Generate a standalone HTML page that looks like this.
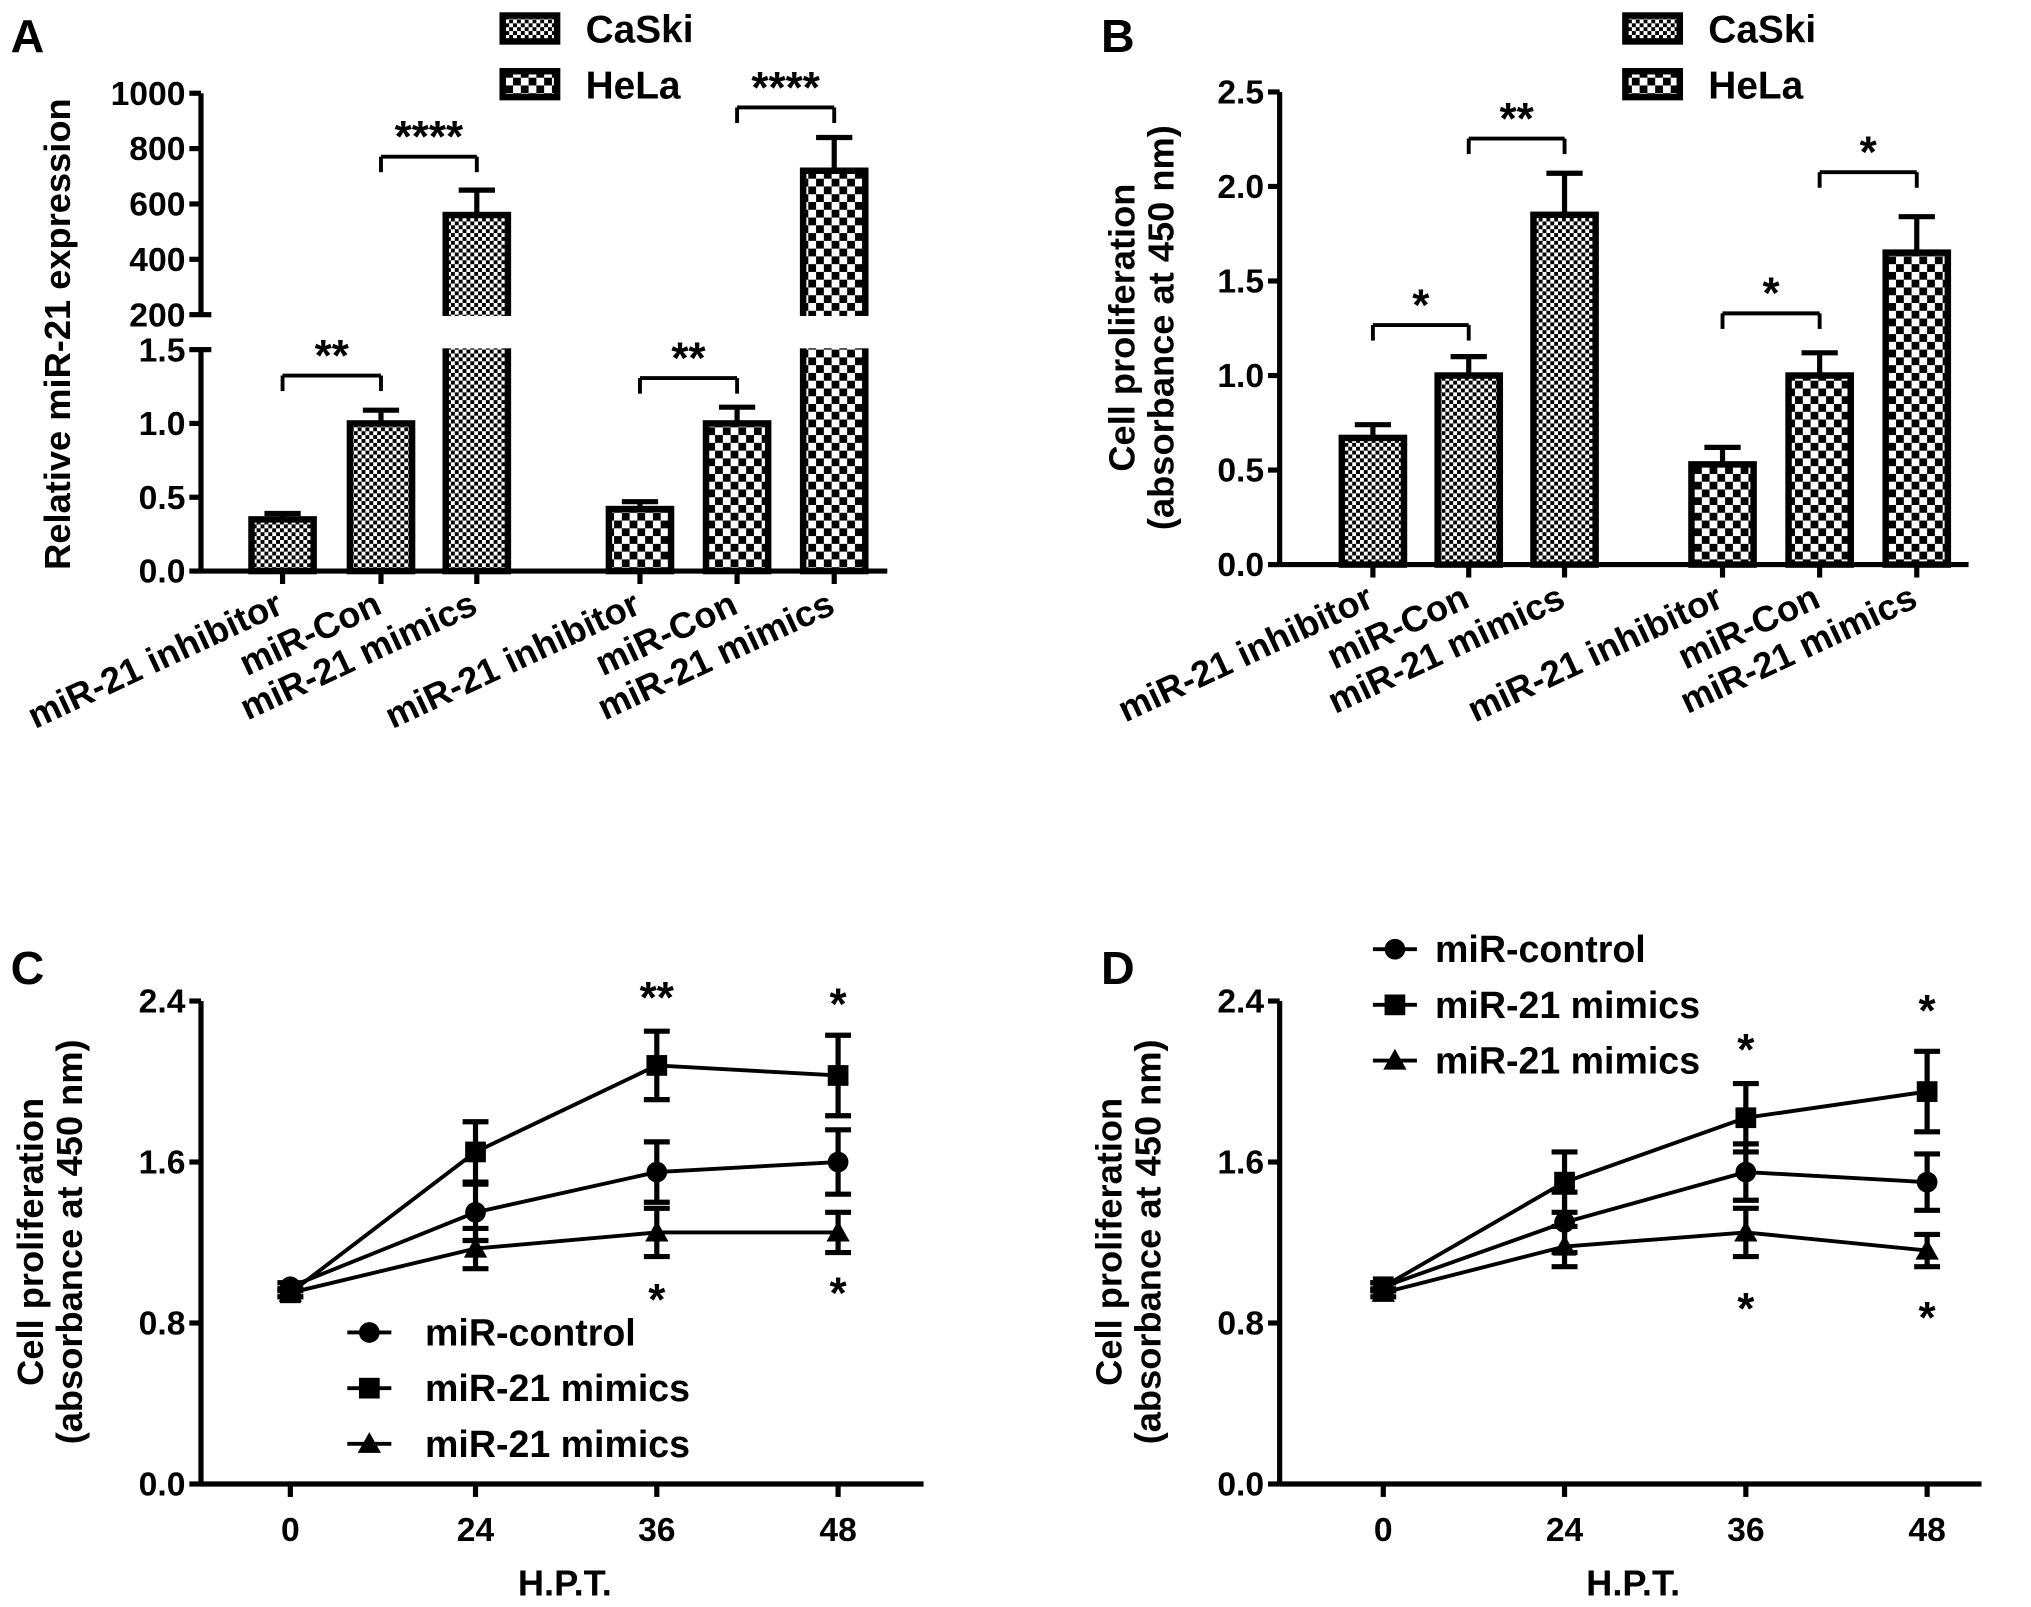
<!DOCTYPE html>
<html><head><meta charset="utf-8"><style>
html,body{margin:0;padding:0;background:#fff}
svg{display:block}
text{font-family:"Liberation Sans",Arial,sans-serif;font-weight:bold;fill:#000}
</style></head><body>
<svg id="fig" width="2031" height="1607" viewBox="0 0 1568 1241">
<defs>
<pattern id="pc" width="6" height="6" patternUnits="userSpaceOnUse"><rect width="6" height="6" fill="#fff"/><rect width="3" height="3" fill="#000"/><rect x="3" y="3" width="3" height="3" fill="#000"/></pattern>
<pattern id="ph" width="12" height="12" patternUnits="userSpaceOnUse"><rect width="12" height="12" fill="#fff"/><rect width="6" height="6" fill="#000"/><rect x="6" y="6" width="6" height="6" fill="#000"/></pattern>
</defs>
<g id="A"></g>
<g id="B"></g>
<g id="C"></g>
<g id="D"></g>
</svg>
<script>
const barCats=["miR-21 inhibitor","miR-Con","miR-21 mimics"];
const aCaSki=[0.35,1.0,560];const aCaSkiErr=[0.04,0.09,90];
const aHeLa=[0.42,1.0,720];const aHeLaErr=[0.05,0.11,120];
const aSig=["**","****","**","****"];
const bCaSki=[0.67,1.0,1.85];const bCaSkiErr=[0.07,0.1,0.22];
const bHeLa=[0.53,1.0,1.65];const bHeLaErr=[0.09,0.12,0.19];
const bSig=["*","**","*","*"];
const hours=[0,24,36,48];
const cControl=[0.98,1.35,1.55,1.6];const cControlErr=[0.02,0.14,0.15,0.16];
const cMimics=[0.95,1.65,2.08,2.03];const cMimicsErr=[0.02,0.15,0.17,0.2];
const cTri=[0.95,1.17,1.25,1.25];const cTriErr=[0.02,0.1,0.12,0.1];
const dControl=[0.98,1.3,1.55,1.5];const dControlErr=[0.02,0.15,0.14,0.14];
const dMimics=[0.98,1.5,1.82,1.95];const dMimicsErr=[0.02,0.15,0.17,0.2];
const dTri=[0.95,1.18,1.25,1.16];const dTriErr=[0.02,0.1,0.12,0.08];
const lineTicks=[0,0.8,1.6,2.4];
const NS="http://www.w3.org/2000/svg";
function mk(p,t,a,txt){const e=document.createElementNS(NS,t);for(const k in a)e.setAttribute(k,a[k]);if(txt!==undefined)e.textContent=txt;p.appendChild(e);return e;}
function ln(p,x1,y1,x2,y2,w){return mk(p,"line",{x1,y1,x2,y2,stroke:"#000","stroke-width":w||4});}
function tx(p,x,y,s,size,anchor,extra){const e=mk(p,"text",Object.assign({x,y,"font-size":size,"text-anchor":anchor||"middle"},extra||{}),s);return e;}

function barPanel(g,ax,yScale,ticks,groups,sig,sigY,ylab,letter,lx,lxEnd,breakInfo){
 tx(g,lx,40,letter,36,"start");
 const axis=mk(g,"g",{});
 if(breakInfo){ln(axis,ax,72,ax,243);ln(axis,ax,270,ax,441);ln(axis,ax,243,ax+8,243);ln(axis,ax,270,ax+8,270);}
 else ln(axis,ax,yScale(ticks[ticks.length-1].v),ax,yScale(0));
 ticks.forEach(t=>{const y=yScale(t.v);ln(axis,ax-9,y,ax,y);const l=tx(axis,ax-12,y+9,t.s,26,"end");});
 const y0=yScale(0);
 const xa=ln(g,ax,y0,lxEnd,y0);
 const yl=tx(g,0,0,ylab[0],28,"middle",{transform:`translate(${ylab[1]},${ylab[2]}) rotate(-90)`});
 if(ylab[3]){const y2=tx(g,0,0,ylab[3],28,"middle",{transform:`translate(${ylab[1]+30},${ylab[2]}) rotate(-90)`});}
 groups.forEach((gr,gi)=>{gr.vals.forEach((v,i)=>{const cx=gr.x[i],w=48;const yt=yScale(v),ye=yScale(v+gr.err[i]);
  ln(g,cx,ye,cx,yt,4);ln(g,cx-14,ye,cx+14,ye,4);
  const r=mk(g,"rect",{x:cx-w/2,y:yt,width:w,height:y0-yt,fill:`url(#${gr.pat})`,stroke:"#000","stroke-width":5});
  
  if(breakInfo&&v>1.5){mk(g,"rect",{x:cx-w/2-4,y:244,width:w+8,height:25,fill:"#fff"});}
  ln(g,cx,y0,cx,y0+10,4);
  const lb=tx(g,0,0,barCats[i],28,"end",{transform:`translate(${cx+2},${y0+32}) rotate(-25)`});
  });});
 sig.forEach((s,k)=>{const gi=Math.floor(k/2),j=k%2;const gr=groups[gi];const x1=gr.x[j],x2=gr.x[j+1];const y=sigY[k];
  ln(g,x1,y+12,x1,y,3);ln(g,x1,y,x2,y,3);ln(g,x2,y,x2,y+12,3);
  const st=tx(g,(x1+x2)/2,y-4,s,34);});
}
function barLegend(g,x){const L=[["CaSki","pc",22],["HeLa","ph",65]];L.forEach(l=>{const r=mk(g,"rect",{x:x,y:l[2]-10,width:42,height:20,fill:`url(#${l[1]})`,stroke:"#000","stroke-width":5});const t=tx(g,x+64,l[2]+11,l[0],30,"start");});}

const gA=document.getElementById("A");
const ysA=v=>v<=1.5?441-v*114:243-(v-200)*0.21375;
barPanel(gA,155,ysA,[{v:0,s:"0.0"},{v:0.5,s:"0.5"},{v:1,s:"1.0"},{v:1.5,s:"1.5"},{v:200,s:"200"},{v:400,s:"400"},{v:600,s:"600"},{v:800,s:"800"},{v:1000,s:"1000"}],
 [{name:"caski",x:[218,294,368],vals:aCaSki,err:aCaSkiErr,pat:"pc"},{name:"hela",x:[494,569,644],vals:aHeLa,err:aHeLaErr,pat:"ph"}],
 aSig,[290,121,292,83],["Relative miR-21 expression",54,258],"A",8,685,true);
barLegend(gA,388);
const gB=document.getElementById("B");
const ysB=v=>436-v*146;
barPanel(gB,988,ysB,[0,0.5,1,1.5,2,2.5].map(v=>({v,s:v.toFixed(1)})),
 [{name:"caski",x:[1060,1134,1208],vals:bCaSki,err:bCaSkiErr,pat:"pc"},{name:"hela",x:[1330,1405,1480],vals:bHeLa,err:bHeLaErr,pat:"ph"}],
 bSig,[251,107,242,133],["Cell proliferation",876,253,"(absorbance at 450 nm)"],"B",850,1520,false);
barLegend(gB,1255);

function marker(g,type,x,y,nm){let e;
 if(type==="c")e=mk(g,"circle",{cx:x,cy:y,r:8,fill:"#000"});
 else if(type==="s")e=mk(g,"rect",{x:x-8,y:y-8,width:16,height:16,fill:"#000"});
 else e=mk(g,"polygon",{points:`${x},${y-9} ${x-9},${y+7} ${x+9},${y+7}`,fill:"#000"});
 }
function linePanel(g,ax,xs,series,letter,lx,xEnd,stars,legend){
 const ys=v=>1146-v*155.4;
 tx(g,lx,760,letter,36,"start");
 const ya=ln(g,ax,ys(2.4),ax,ys(0));
 lineTicks.forEach(v=>{ln(g,ax-9,ys(v),ax,ys(v));const l=tx(g,ax-12,ys(v)+9,v.toFixed(1),26,"end");});
 const xa=ln(g,ax,ys(0),xEnd,ys(0));
 hours.forEach(h=>{const x=xs(h);ln(g,x,ys(0),x,ys(0)+10);const l=tx(g,x,ys(0)+44,String(h),26);});
 const xt=tx(g,(ax+xEnd)/2+2,1232,"H.P.T.",28);
 const t1=tx(g,0,0,"Cell proliferation",28,"middle",{transform:`translate(${ax-122},959) rotate(-90)`});
 const t2=tx(g,0,0,"(absorbance at 450 nm)",28,"middle",{transform:`translate(${ax-92},959) rotate(-90)`});
 series.forEach(s=>{const pts=hours.map((h,i)=>xs(h)+","+ys(s.v[i])).join(" ");
  const pl=mk(g,"polyline",{points:pts,fill:"none",stroke:"#000","stroke-width":3});
  hours.forEach((h,i)=>{const x=xs(h),e=s.e[i];ln(g,x,ys(s.v[i]+e),x,ys(s.v[i]-e),4);ln(g,x-10,ys(s.v[i]+e),x+10,ys(s.v[i]+e),4);ln(g,x-10,ys(s.v[i]-e),x+10,ys(s.v[i]-e),4);marker(g,s.m,x,ys(s.v[i]),'point-'+s.name);});});
 stars.forEach(st=>{const e=tx(g,xs(st[0]),st[1],st[2],34);});
 legend.items.forEach((it,i)=>{const y=legend.y+i*43;ln(g,legend.x,y,legend.x+34,y,3);marker(g,it[0],legend.x+17,y,'legend-marker');const t=tx(g,legend.x+legend.off,y+10,it[1],29,"start");});
}
const legItems=[["c","miR-control"],["s","miR-21 mimics"],["t","miR-21 mimics"]];
linePanel(document.getElementById("C"),155,h=>224+(h===0?0:h===24?143:h===36?283:423),
 [{name:"control",v:cControl,e:cControlErr,m:"c"},{name:"mimics",v:cMimics,e:cMimicsErr,m:"s"},{name:"mimics-2",v:cTri,e:cTriErr,m:"t"}],
 "C",8,713,[[36,782,"**"],[48,787,"*"],[36,1015,"*"],[48,1010,"*"]],{x:268,y:1029,off:60,items:legItems});
linePanel(document.getElementById("D"),988,h=>1068+(h===0?0:h===24?140:h===36?280:420),
 [{name:"control",v:dControl,e:dControlErr,m:"c"},{name:"mimics",v:dMimics,e:dMimicsErr,m:"s"},{name:"mimics-2",v:dTri,e:dTriErr,m:"t"}],
 "D",850,1530,[[36,822,"*"],[48,792,"*"],[36,1022,"*"],[48,1029,"*"]],{x:1060,y:733,off:48,items:legItems});
</script>
</body></html>
